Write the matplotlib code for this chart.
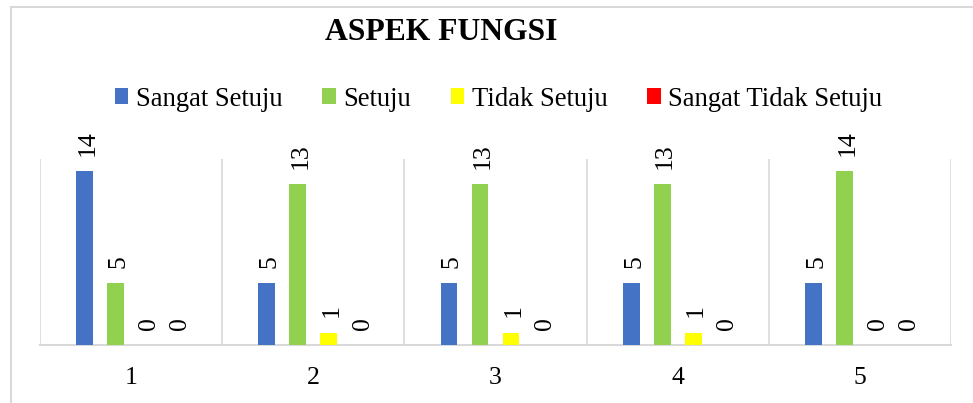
import matplotlib
matplotlib.use("Agg")
import matplotlib.pyplot as plt
from matplotlib.patches import Patch
from matplotlib.lines import Line2D
import numpy as np

categories = ['1', '2', '3', '4', '5']
series_names = ['Sangat Setuju', 'Setuju', 'Tidak Setuju', 'Sangat Tidak Setuju']
sangat_setuju = [14, 5, 5, 5, 5]
setuju = [5, 13, 13, 13, 14]
tidak_setuju = [0, 1, 1, 1, 0]
sangat_tidak_setuju = [0, 0, 0, 0, 0]
colors = ['#4472C4', '#92D050', '#FFFF00', '#FF0000']
title = 'ASPEK FUNGSI'

plt.rcParams['font.family'] = ['Liberation Serif', 'DejaVu Serif']

W, H = 973, 403
fig = plt.figure(figsize=(W / 100, H / 100), dpi=100)

# outer chart border (top and left visible)
fig.add_artist(Line2D([11 / W, 11 / W], [0, 1 - 7 / H], color='#d9d9d9', lw=1.5))
fig.add_artist(Line2D([11 / W, 1], [1 - 7 / H, 1 - 7 / H], color='#d9d9d9', lw=1.5))

left, right, top, bottom = 40, 951, 159, 345
ax = fig.add_axes([left / W, 1 - bottom / H, (right - left) / W, (bottom - top) / H])

series = [sangat_setuju, setuju, tidak_setuju, sangat_tidak_setuju]
x = np.arange(len(categories))
spacing = 0.170
width = 0.0917
for k, (vals, c) in enumerate(zip(series, colors)):
    pos = x + (k - 1.5) * spacing
    ax.bar(pos, vals, width=width, color=c, zorder=3)
    for p, v in zip(pos, vals):
        ax.annotate(str(v), (p, v), xytext=(2, 11), textcoords='offset points',
                    ha='center', va='bottom', rotation=90, fontsize=18.5)

ax.set_xlim(-0.5, len(categories) - 0.5)
ax.set_ylim(0, 15)
ax.set_yticks([])
ax.set_xticks(x)
ax.set_xticklabels(categories, fontsize=18.5)
ax.tick_params(axis='x', length=0, pad=16)
for b in np.arange(-0.5, len(categories), 1.0):
    ax.axvline(b, color='#d9d9d9', lw=1.2, zorder=1)
for s in ['top', 'left', 'right']:
    ax.spines[s].set_visible(False)
ax.spines['bottom'].set_color('#d9d9d9')
ax.spines['bottom'].set_linewidth(1.5)

fig.text(441 / W, 1 - 32 / H, title, ha='center', va='center',
         fontsize=22.8, fontweight='bold')

handles = [Patch(facecolor=c, edgecolor='none') for c in colors]
fig.legend(handles, series_names, loc='center', bbox_to_anchor=(498.5 / W, 1 - 99 / H),
           ncol=4, frameon=False, fontsize=19.2, handlelength=0.5, handleheight=0.5,
           handletextpad=0.28, columnspacing=1.5, borderpad=0)

fig.savefig('out.png', dpi=100)
